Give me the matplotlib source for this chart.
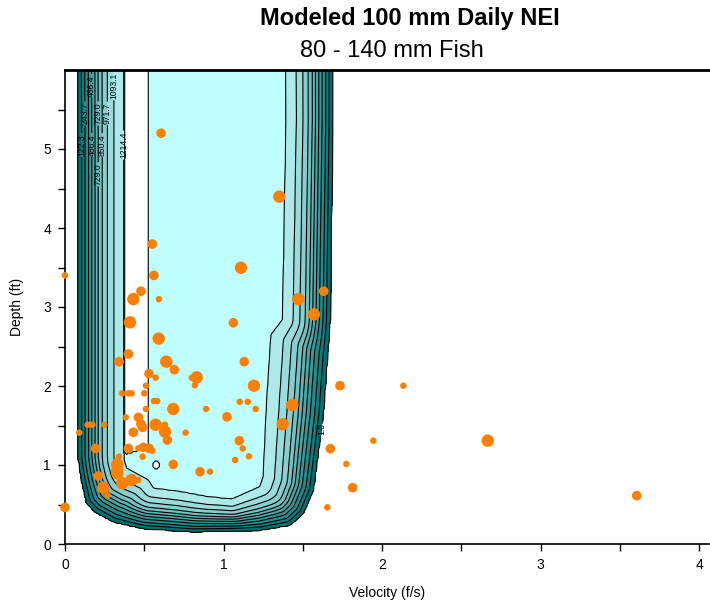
import numpy as np
import matplotlib
matplotlib.use("Agg")
import matplotlib.pyplot as plt
from matplotlib.path import Path
from matplotlib.colors import to_rgb
from matplotlib.ticker import MultipleLocator, FixedLocator

plt.rcParams['font.family'] = ['Liberation Sans', 'DejaVu Sans']

# NEI contour levels as labelled on the chart
levels = [1.0, 122.3, 243.7, 365.0, 486.4, 607.7, 729.0, 850.4, 971.7, 1093.1, 1214.4]
top_level = 1335.7
# where each level sits across the band (0 = outer 1.0 line, 1 = inner 1214.4 line)
band_frac = [0.0, 0.075, 0.146, 0.226, 0.296, 0.367, 0.436, 0.522, 0.636, 0.778, 1.0]

# outer (1.0) contour: velocity (f/s), depth (ft)
outer_v = [0.080, 0.084, 0.084, 0.105, 0.137, 0.189, 0.305, 0.494, 0.809, 1.230,
           1.420, 1.503, 1.566, 1.629, 1.672, 1.688, 1.690]
outer_d = [7.0, 5.0, 1.105, 0.810, 0.519, 0.409, 0.282, 0.198, 0.156, 0.177,
           0.241, 0.389, 0.684, 1.654, 2.840, 5.370, 7.0]
# inner (1214.4) contour
inner_v = [0.372, 0.372, 0.389, 0.525, 0.557, 0.726, 0.894, 1.052, 1.230, 1.251,
           1.272, 1.300, 1.373, 1.395, 1.390]
inner_d = [7.0, 1.060, 0.958, 0.810, 0.705, 0.662, 0.599, 0.566, 0.725, 0.852,
           1.780, 2.650, 2.840, 5.370, 7.0]
# unfilled strip above the top level, and the small closed ring near it
strip_v = [0.372, 0.372, 0.389, 0.505, 0.520, 0.520]
strip_d = [7.0, 1.160, 1.135, 1.210, 1.230, 7.0]
ring_v, ring_d = 0.574, 1.0
plateau = 1280.0
peak = 1400.0

# observed fish positions; size class 1 = small, 2 = medium, 3 = large
fish_v = [0.606, 1.352, 0.551, 1.110, 0.561, 0.593, 0.000, 0.479, 0.431, 0.410,
          0.591, 0.400, 0.341, 0.639, 0.690, 0.530, 0.572, 0.831, 0.800, 0.820,
          0.511, 0.360, 0.400, 0.420, 0.500, 0.561, 0.582, 0.683, 0.890, 0.511,
          0.383, 0.463, 0.479, 0.572, 0.631, 0.490, 0.143, 0.172, 0.248, 0.631,
          0.761, 0.431, 0.090, 0.646, 0.494, 0.400, 0.193, 0.463, 0.532, 0.551,
          0.490, 0.341, 0.683, 0.330, 0.330, 0.330, 0.210, 0.852, 0.915, 0.420,
          0.463, 0.362, 0.242, 0.269, 0.000, 1.472, 1.632, 1.571, 1.062, 1.131,
          1.192, 1.102, 1.153, 1.203, 1.434, 1.022, 1.373, 1.735, 2.135, 1.945,
          2.667, 1.674, 1.775, 1.815, 1.655, 3.607, 1.100, 1.121, 1.073, 1.161]
fish_d = [5.200, 4.396, 3.797, 3.497, 3.400, 3.100, 3.400, 3.200, 3.100, 2.806,
          2.600, 2.405, 2.308, 2.308, 2.206, 2.156, 2.105, 2.110, 2.105, 2.010,
          2.004, 1.907, 1.907, 1.907, 1.907, 1.810, 1.810, 1.709, 1.709, 1.709,
          1.603, 1.603, 1.519, 1.510, 1.510, 1.477, 1.510, 1.510, 1.510, 1.422,
          1.409, 1.414, 1.409, 1.316, 1.224, 1.210, 1.210, 1.210, 1.210, 1.180,
          1.105, 1.105, 1.008, 1.008, 0.937, 0.895, 0.861, 0.915, 0.915, 0.810,
          0.810, 0.768, 0.713, 0.620, 0.463, 3.100, 3.200, 2.907, 2.800, 2.308,
          2.004, 1.800, 1.800, 1.709, 1.760, 1.610, 1.515, 2.004, 2.004, 1.308,
          1.308, 1.207, 1.013, 0.713, 0.464, 0.612, 1.308, 1.210, 1.063, 1.110]
fish_cls = [2, 3, 2, 3, 2, 1, 1, 2, 3, 3,
            3, 2, 2, 3, 2, 2, 1, 3, 1, 1,
            1, 1, 1, 1, 1, 1, 1, 3, 1, 1,
            1, 2, 2, 3, 1, 2, 1, 1, 1, 3,
            1, 2, 1, 2, 2, 2, 2, 1, 2, 1,
            1, 1, 2, 3, 3, 3, 2, 2, 1, 3,
            1, 3, 3, 1, 2, 3, 2, 3, 2, 2,
            3, 1, 1, 1, 3, 2, 3, 2, 1, 1,
            3, 2, 1, 2, 1, 2, 2, 1, 1, 1]


def polyline_dist(x, y, xs, ys):
    best = np.full(x.shape, np.inf)
    for x0, y0, x1, y1 in zip(xs[:-1], ys[:-1], xs[1:], ys[1:]):
        dx, dy = x1 - x0, y1 - y0
        t = np.clip(((x - x0) * dx + (y - y0) * dy) / (dx * dx + dy * dy), 0, 1)
        best = np.minimum(best, np.hypot(x - x0 - t * dx, y - y0 - t * dy))
    return best


# build the NEI surface from the read contour edges
vel = np.arange(0, 4.1, 0.01)
dep = np.arange(0, 6.11, 0.02)
vv, dd = np.meshgrid(vel, dep)
pts = np.column_stack([vv.ravel(), dd.ravel()])
asp = 2.0  # one f/s spans about twice the pixels of one ft
in_out = Path(np.column_stack([outer_v, outer_d])).contains_points(pts).reshape(vv.shape)
in_in = Path(np.column_stack([inner_v, inner_d])).contains_points(pts).reshape(vv.shape)
in_strip = Path(np.column_stack([strip_v, strip_d])).contains_points(pts).reshape(vv.shape)
d_out = polyline_dist(vv * asp, dd, np.array(outer_v) * asp, np.array(outer_d))
d_in = polyline_dist(vv * asp, dd, np.array(inner_v) * asp, np.array(inner_d))

Z = np.interp(d_out / (d_out + d_in), band_frac, levels)
Z = np.where(in_out, Z, levels[0] - 400 * d_out)
Z = np.where(in_in, np.minimum(levels[-1] + 400 * d_in, plateau), Z)
Z[in_strip] = peak
Z[((vv - ring_v) / 0.022) ** 2 + ((dd - ring_d) / 0.045) ** 2 <= 1] = peak

# teal ramp for the ten bands, pale cyan above 1214.4
c0, c1 = np.array(to_rgb('#006f6f')), np.array(to_rgb('#adeaea'))
band_colors = [tuple(c0 + (c1 - c0) * i / 9) for i in range(10)] + ['#c0ffff']

fig = plt.figure(figsize=(7.1, 6.02), dpi=100)
ax = fig.add_axes([65 / 710, 58 / 602, 644 / 710, 474 / 602])

ax.contourf(vv, dd, Z, levels=levels + [top_level], colors=band_colors)
cs = ax.contour(vv, dd, Z, levels=levels + [top_level], colors='k', linewidths=0.8)
# staggered label spots along the left flank, plus the 1.0 label on the right
spots = [(0.105, 5.05), (0.132, 5.45), (0.158, 5.80), (0.179, 5.05), (0.200, 5.45),
         (0.216, 4.68), (0.242, 5.05), (0.280, 5.45), (0.322, 5.80), (0.368, 5.05),
         (1.622, 1.45)]
lbls = ax.clabel(cs, levels=levels, manual=spots, fmt='%.1f', fontsize=6.2,
                 inline=True, inline_spacing=1)
for t in lbls:
    t.set_rotation(90)

sizes = {1: 22, 2: 48, 3: 80}
ax.scatter(fish_v, fish_d, s=[sizes[c] for c in fish_cls], c='#ff8000',
           edgecolors='none', zorder=5, clip_on=False)

ax.set_xlim(0, 644 / 158.5)
ax.set_ylim(0, 6)
ax.xaxis.set_major_locator(MultipleLocator(1))
ax.xaxis.set_minor_locator(MultipleLocator(0.5))
ax.yaxis.set_major_locator(FixedLocator([0, 1, 2, 3, 4, 5]))
ax.yaxis.set_minor_locator(FixedLocator([0.5, 1.5, 2.5, 3.5, 4.5, 5.5]))
ax.tick_params(which='both', direction='out', length=5, width=1, labelsize=10, pad=5)
ax.spines['right'].set_visible(False)
ax.spines['top'].set_linewidth(2)
for s in ('left', 'bottom'):
    ax.spines[s].set_linewidth(1.2)

ax.set_xlabel('Velocity (f/s)', fontsize=10, labelpad=10)
ax.set_ylabel('Depth (ft)', fontsize=10, labelpad=14)

fig.text(410 / 710, 1 - 18 / 602, 'Modeled 100 mm Daily NEI', ha='center', va='center',
         fontsize=17, fontweight='bold')
fig.text(392 / 710, 1 - 51 / 602, '80 - 140 mm Fish', ha='center', va='center', fontsize=17)

fig.savefig('out.png', dpi=100)
